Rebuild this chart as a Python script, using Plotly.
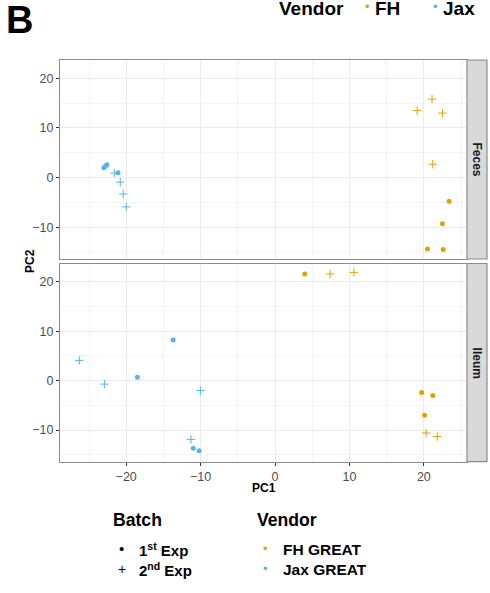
import plotly.graph_objects as go

# ---- data (PC1, PC2) ----
feces_fh_1st_x = [23.4, 22.5, 20.5, 22.6]
feces_fh_1st_y = [-4.75, -9.3, -14.4, -14.5]
feces_fh_2nd_x = [21.1, 19.1, 22.5, 21.2]
feces_fh_2nd_y = [15.8, 13.5, 13.0, 2.7]
feces_jax_1st_x = [-23.0, -22.8, -22.6, -21.1]
feces_jax_1st_y = [2.0, 2.3, 2.6, 1.0]
feces_jax_2nd_x = [-21.6, -20.8, -20.4, -20.0]
feces_jax_2nd_y = [0.9, -0.9, -3.3, -5.9]

ileum_fh_1st_x = [4.0, 19.7, 21.2, 20.1]
ileum_fh_1st_y = [21.6, -2.4, -3.0, -7.0]
ileum_fh_2nd_x = [7.4, 10.6, 20.3, 21.8]
ileum_fh_2nd_y = [21.6, 21.9, -10.6, -11.3]
ileum_jax_1st_x = [-18.5, -13.7, -11.0, -10.2]
ileum_jax_1st_y = [0.7, 8.2, -13.7, -14.2]
ileum_jax_2nd_x = [-26.3, -22.9, -10.0, -11.3]
ileum_jax_2nd_y = [4.1, -0.7, -2.0, -11.9]

facets = ["Feces", "Ileum"]
x_ticks = [-20, -10, 0, 10, 20]
y_ticks = [-10, 0, 10, 20]

FH = "#E69F00"
JAX = "#56B4E9"
FONT = "Liberation Sans, Arial, sans-serif"

W, H = 490, 593
def px(x): return x / W
def py(y): return 1 - y / H

fig = go.Figure()

def add(xs, ys, color, batch, xa, ya):
    if batch == 1:
        marker = dict(symbol="circle", size=5, color=color, line=dict(width=0))
    else:
        marker = dict(symbol="cross-thin", size=6, color=color,
                      line=dict(width=1, color=color))
    fig.add_trace(go.Scatter(x=xs, y=ys, mode="markers", marker=marker,
                             xaxis=xa, yaxis=ya, showlegend=False,
                             hoverinfo="skip"))

add(feces_fh_1st_x, feces_fh_1st_y, FH, 1, "x", "y")
add(feces_fh_2nd_x, feces_fh_2nd_y, FH, 2, "x", "y")
add(feces_jax_1st_x, feces_jax_1st_y, JAX, 1, "x", "y")
add(feces_jax_2nd_x, feces_jax_2nd_y, JAX, 2, "x", "y")
add(ileum_fh_1st_x, ileum_fh_1st_y, FH, 1, "x2", "y2")
add(ileum_fh_2nd_x, ileum_fh_2nd_y, FH, 2, "x2", "y2")
add(ileum_jax_1st_x, ileum_jax_1st_y, JAX, 1, "x2", "y2")
add(ileum_jax_2nd_x, ileum_jax_2nd_y, JAX, 2, "x2", "y2")

x_dom = [px(60), px(467)]
top_dom = [py(259), py(60)]
bot_dom = [py(461.7), py(263.5)]
xr = [-28.9, 25.8]
yr = [-16.4, 23.7]

grid = "#EBEBEB"
minor_grid = "#F4F4F4"
border = "#8C8C8C"
tickfont = dict(family=FONT, size=12.5, color="#4D4D4D")

common_x = dict(domain=x_dom, range=xr, tickvals=x_ticks, showgrid=True,
                gridcolor=grid, gridwidth=1, zeroline=False,
                minor=dict(dtick=5, tick0=0, showgrid=True, gridcolor=minor_grid, gridwidth=1),
                showline=True, mirror=True, linecolor=border, linewidth=1.2,
                tickfont=tickfont)
common_y = dict(range=yr, tickvals=y_ticks, showgrid=True, gridcolor=grid,
                gridwidth=1, zeroline=False,
                minor=dict(dtick=5, tick0=0, showgrid=True, gridcolor=minor_grid, gridwidth=1),
                showline=True, mirror=True, linecolor=border, linewidth=1.2,
                ticks="outside", ticklen=3, tickcolor="#333333", tickfont=tickfont)

fig.update_layout(
    width=W, height=H, margin=dict(l=0, r=0, t=0, b=0),
    paper_bgcolor="white", plot_bgcolor="white",
    font=dict(family=FONT, color="black"),
    xaxis=dict(anchor="y", showticklabels=False, ticks="", **common_x),
    xaxis2=dict(anchor="y2", matches="x", ticks="outside", ticklen=3,
                tickcolor="#333333", **common_x),
    yaxis=dict(domain=top_dom, anchor="x", **common_y),
    yaxis2=dict(domain=bot_dom, anchor="x2", **common_y),
)

# strips
strip_x = [px(467), px(487)]
for dom, label in zip([top_dom, bot_dom], facets):
    fig.add_shape(type="rect", xref="paper", yref="paper",
                  x0=strip_x[0], x1=strip_x[1], y0=dom[0], y1=dom[1],
                  fillcolor="#D9D9D9", line=dict(color=border, width=1.2))
    fig.add_annotation(xref="paper", yref="paper", x=(strip_x[0] + strip_x[1]) / 2,
                       y=(dom[0] + dom[1]) / 2, text="<b>%s</b>" % label,
                       textangle=90, showarrow=False, xanchor="center", yanchor="middle",
                       font=dict(family=FONT, size=12, color="#1A1A1A"))

def ann(x, y, text, size, xanchor="left", color="black", angle=0):
    fig.add_annotation(xref="paper", yref="paper", x=px(x), y=py(y), text=text,
                       showarrow=False, xanchor=xanchor, yanchor="middle",
                       textangle=angle, font=dict(family=FONT, size=size, color=color))

# axis titles
ann(263.5, 488, "<b>PC1</b>", 12, xanchor="center")
ann(30, 261, "<b>PC2</b>", 12, xanchor="center", angle=-90)

# panel label
ann(4, 20, "<b>B</b>", 38)

# top legend
ann(277, 9, "<b>Vendor</b>", 19)
ann(367, 6, "•", 13, xanchor="center", color=FH)
ann(373, 9, "<b>FH</b>", 19)
ann(435, 6, "•", 13, xanchor="center", color=JAX)
ann(441, 9, "<b>Jax</b>", 19)

# bottom legend
ann(111, 520, "<b>Batch</b>", 17.6)
ann(255, 520, "<b>Vendor</b>", 17.6)
ann(121.7, 548, "•", 15, xanchor="center")
ann(121.7, 568.5, "+", 14, xanchor="center")
ann(137, 549, "<b>1<sup>st</sup> Exp</b>", 15)
ann(137, 569, "<b>2<sup>nd</sup> Exp</b>", 15)
ann(265.7, 548, "•", 13, xanchor="center", color=FH)
ann(265.7, 568.5, "•", 13, xanchor="center", color=JAX)
ann(281, 549, "<b>FH GREAT</b>", 15.5)
ann(281, 569, "<b>Jax GREAT</b>", 15.5)

fig.write_html("out.html")
